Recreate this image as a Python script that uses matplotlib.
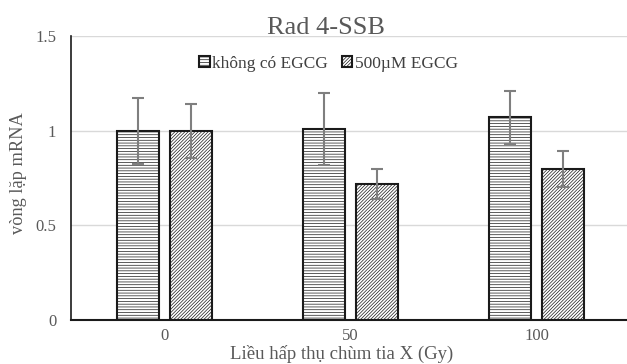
import matplotlib.pyplot as plt
import numpy as np

# Dữ liệu
nhom = ["0", "50", "100"]
khong_egcg = [1.00, 1.01, 1.07]
khong_egcg_err = [0.175, 0.19, 0.14]
co_egcg = [1.00, 0.72, 0.80]
co_egcg_err = [0.143, 0.08, 0.095]
ten_series = ["không có EGCG", "500µM EGCG"]

plt.rcParams['font.family'] = ['Liberation Serif', 'DejaVu Serif']
plt.rcParams['hatch.linewidth'] = 0.5
plt.rcParams['hatch.color'] = '#333333'

fig = plt.figure(figsize=(6.27, 3.64), dpi=100)
ax = fig.add_axes([0.114, 0.1209, 0.890, 0.780])

x = np.arange(len(nhom))
w = 0.228
off = 0.142
err_kw = dict(ecolor='#7f7f7f', elinewidth=1.5, capsize=4, capthick=1.5)

ax.bar(x - off, khong_egcg, w, yerr=khong_egcg_err, color='white',
       edgecolor='#1a1a1a', linewidth=1.5, hatch='------', label=ten_series[0],
       error_kw=err_kw, zorder=2)
ax.bar(x + off, co_egcg, w, yerr=co_egcg_err, color='white',
       edgecolor='#1a1a1a', linewidth=1.5, hatch='//////////', label=ten_series[1],
       error_kw=err_kw, zorder=2)

ax.set_xlim(-0.5, 2.5)
ax.set_ylim(0, 1.5)
ax.set_xticks(x)
ax.set_xticklabels(nhom)
ax.set_yticks([0, 0.5, 1, 1.5])
ax.set_yticklabels(["0", "0.5", "1", "1.5"])
ax.tick_params(axis='both', length=0, labelsize=12, labelcolor='#595959')
ax.tick_params(axis='y', pad=11)
ax.tick_params(axis='x', pad=6)

ax.grid(axis='y', color='#d9d9d9', linewidth=1, zorder=0)
ax.set_axisbelow(True)
for s in ['top', 'right']:
    ax.spines[s].set_visible(False)
ax.spines['left'].set_color('#1a1a1a')
ax.spines['left'].set_linewidth(1.2)
ax.spines['bottom'].set_color('#1a1a1a')
ax.spines['bottom'].set_linewidth(1.5)

# Tiêu đề và nhãn trục
fig.text(0.5195, 0.9066, "Rad 4-SSB", ha='center', va='baseline',
         fontsize=19, color='#595959')
fig.text(0.545, 0.013, "Liều hấp thụ chùm tia X (Gy)", ha='center',
         va='baseline', fontsize=13.5, color='#595959')
fig.text(0.030, 0.525, "vòng lặp mRNA", ha='center', va='center',
         rotation=90, fontsize=13.2, color='#595959')

leg = ax.legend(loc='center', bbox_to_anchor=(328.5 / 627, 1 - 64 / 364),
                bbox_transform=fig.transFigure, ncol=2, frameon=False,
                fontsize=12.5, handlelength=0.6, handleheight=0.6,
                handletextpad=0.15, columnspacing=0.8, borderpad=0)
for t in leg.get_texts():
    t.set_color('#404040')

fig.savefig("out.png", dpi=100)
